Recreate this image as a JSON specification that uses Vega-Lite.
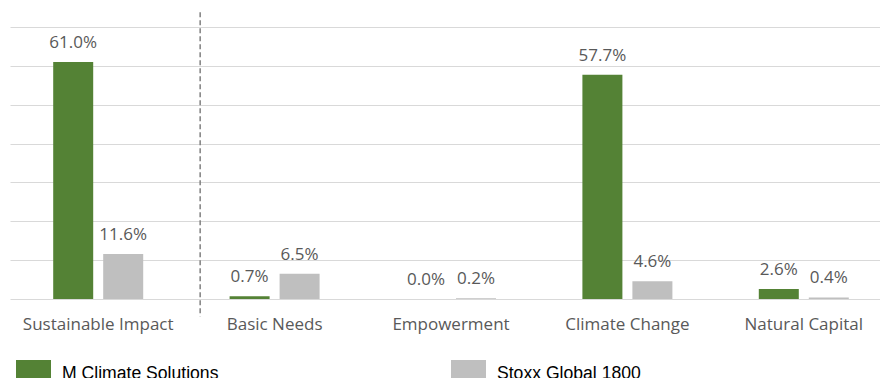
{
  "$schema": "https://vega.github.io/schema/vega-lite/v6.json",
  "width": 882,
  "height": 289,
  "autosize": {"type": "none"},
  "padding": {"left": 10, "top": 10, "right": 0, "bottom": 79},
  "background": "white",
  "config": {"view": {"stroke": null}, "font": "Open Sans"},
  "datasets": {
    "bars": [
      {"category": "Sustainable Impact", "series": "M Climate Solutions", "value": 0.610},
      {"category": "Sustainable Impact", "series": "Stoxx Global 1800", "value": 0.116},
      {"category": "Basic Needs", "series": "M Climate Solutions", "value": 0.007},
      {"category": "Basic Needs", "series": "Stoxx Global 1800", "value": 0.065},
      {"category": "Empowerment", "series": "M Climate Solutions", "value": 0.000},
      {"category": "Empowerment", "series": "Stoxx Global 1800", "value": 0.002},
      {"category": "Climate Change", "series": "M Climate Solutions", "value": 0.577},
      {"category": "Climate Change", "series": "Stoxx Global 1800", "value": 0.046},
      {"category": "Natural Capital", "series": "M Climate Solutions", "value": 0.026},
      {"category": "Natural Capital", "series": "Stoxx Global 1800", "value": 0.004}
    ],
    "divider": [
      {"category": "Basic Needs", "top": 0.738, "bottom": -0.045}
    ]
  },
  "layer": [
    {
      "data": {"name": "bars"},
      "mark": {"type": "bar"},
      "encoding": {
        "x": {
          "field": "category", "type": "nominal",
          "sort": ["Sustainable Impact", "Basic Needs", "Empowerment", "Climate Change", "Natural Capital"],
          "scale": {"paddingInner": 0, "paddingOuter": 0},
          "axis": {"title": null, "labelAngle": 0, "domain": false, "ticks": false, "labelFontSize": 17, "labelColor": "#595959", "labelPadding": 17, "labelFont": "Open Sans"}
        },
        "xOffset": {
          "field": "series", "type": "nominal",
          "sort": ["M Climate Solutions", "Stoxx Global 1800"],
          "scale": {"paddingInner": 0.2, "paddingOuter": 0.864}
        },
        "y": {
          "field": "value", "type": "quantitative",
          "scale": {"domain": [0, 0.744], "nice": false, "zero": true},
          "axis": {"title": null, "labels": false, "ticks": false, "domain": false, "grid": true, "gridColor": "#D9D9D9", "gridWidth": 1.2, "values": [0, 0.1, 0.2, 0.3, 0.4, 0.5, 0.6, 0.7]}
        },
        "color": {
          "field": "series", "type": "nominal",
          "scale": {"domain": ["M Climate Solutions", "Stoxx Global 1800"], "range": ["#548235", "#BFBFBF"]},
          "legend": {
            "title": null,
            "orient": "none",
            "direction": "horizontal",
            "legendX": 6,
            "legendY": 350,
            "padding": 0,
            "symbolType": "square",
            "symbolSize": 1225,
            "symbolStrokeWidth": 0,
            "symbolOpacity": 1,
            "labelFont": "Liberation Sans",
            "labelFontSize": 17.6,
            "labelColor": "#000000",
            "labelOffset": 11,
            "labelLimit": 400,
            "columnPadding": 232,
            "encode": {
              "symbols": {"update": {"fill": {"signal": "datum.value === 'M Climate Solutions' ? '#548235' : '#A5A5A5'"}}},
              "labels": {"update": {"dy": {"value": -4}}}
            }
          }
        }
      }
    },
    {
      "data": {"name": "bars"},
      "mark": {"type": "text", "baseline": "alphabetic", "dy": -14, "fontSize": 17, "color": "#595959", "font": "Open Sans"},
      "encoding": {
        "x": {"field": "category", "type": "nominal", "sort": ["Sustainable Impact", "Basic Needs", "Empowerment", "Climate Change", "Natural Capital"]},
        "xOffset": {"field": "series", "type": "nominal", "sort": ["M Climate Solutions", "Stoxx Global 1800"]},
        "y": {"field": "value", "type": "quantitative"},
        "text": {"field": "value", "type": "quantitative", "format": ".1%"}
      }
    },
    {
      "data": {"name": "divider"},
      "mark": {"type": "rule", "color": "#808080", "strokeWidth": 1.5, "strokeDash": [5, 3]},
      "encoding": {
        "x": {"field": "category", "type": "nominal", "bandPosition": 0.078, "sort": ["Sustainable Impact", "Basic Needs", "Empowerment", "Climate Change", "Natural Capital"]},
        "y": {"field": "top", "type": "quantitative"},
        "y2": {"field": "bottom"}
      }
    }
  ]
}
